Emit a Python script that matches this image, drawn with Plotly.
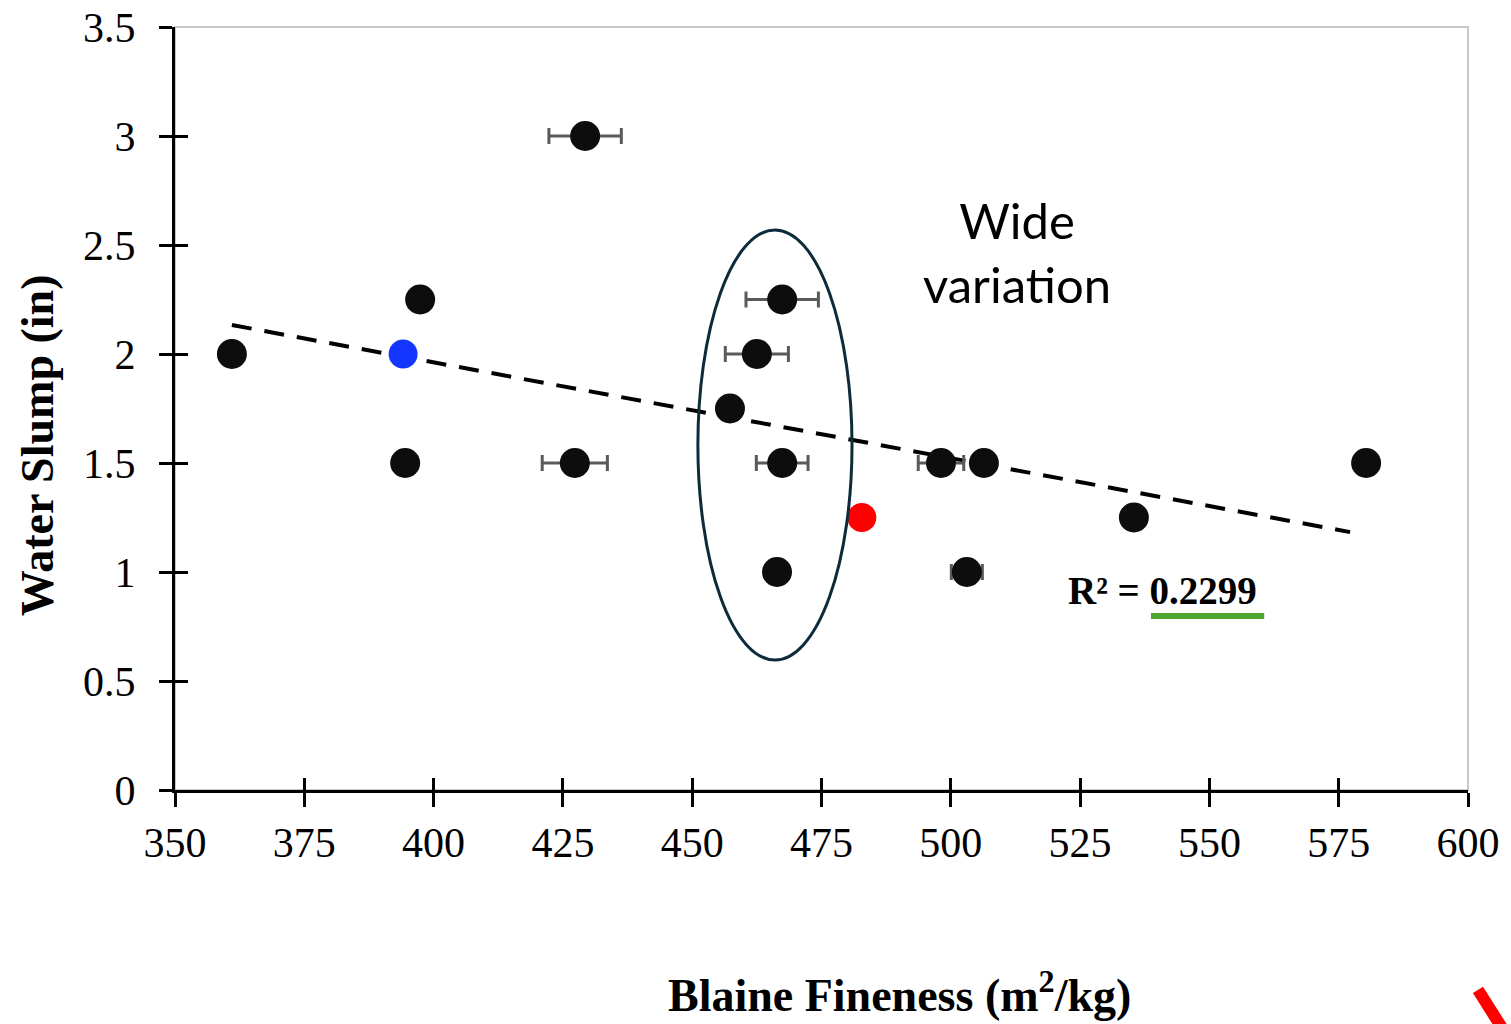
import plotly.graph_objects as go

# ---- data ----
blaine = [361.0, 397.4, 394.5, 429.3, 427.3, 467.4, 462.5, 457.3, 467.4, 466.4, 498.1, 506.4, 503.1, 535.4, 580.3]
slump = [2.0, 2.25, 1.5, 3.0, 1.5, 2.25, 2.0, 1.75, 1.5, 1.0, 1.5, 1.5, 1.0, 1.25, 1.5]
blaine_err = [0, 0, 0, 7.0, 6.3, 7.0, 6.1, 0, 5.0, 0, 4.4, 0, 3.0, 0, 0]

blue_x = [394.1]
blue_y = [2.0]
red_x = [482.8]
red_y = [1.25]

trend_x = [361.0, 577.2]
trend_y = [2.133, 1.183]

x_ticks = [350, 375, 400, 425, 450, 475, 500, 525, 550, 575, 600]
y_ticks = [0, 0.5, 1, 1.5, 2, 2.5, 3, 3.5]
y_ticktext = ["0", "0.5", "1", "1.5", "2", "2.5", "3", "3.5"]

r2_text = "R² = 0.2299"
ellipse_x = [451.1, 480.9]
ellipse_y = [0.596, 2.569]

SERIF = "Liberation Serif, Times New Roman, serif"

fig = go.Figure()

fig.add_trace(go.Scatter(
    x=trend_x, y=trend_y, mode="lines",
    line=dict(color="black", width=4, dash="20px,13px"),
    hoverinfo="skip", showlegend=False))

fig.add_trace(go.Scatter(
    x=blaine, y=slump, mode="markers",
    marker=dict(color="#0d0d0d", size=30),
    error_x=dict(type="data", array=blaine_err, visible=True,
                 color="#5a5a5a", thickness=3, width=8),
    showlegend=False))

fig.add_trace(go.Scatter(
    x=blue_x, y=blue_y, mode="markers",
    marker=dict(color="#1436ff", size=29), showlegend=False))

fig.add_trace(go.Scatter(
    x=red_x, y=red_y, mode="markers",
    marker=dict(color="#ff0000", size=29), showlegend=False))

# dummy trace for overlay axes (inside half of the cross ticks)
fig.add_trace(go.Scatter(x=[None], y=[None], xaxis="x2", yaxis="y2",
                         mode="markers", showlegend=False, hoverinfo="skip"))

axis_common = dict(showgrid=False, zeroline=False, automargin=False)

fig.update_layout(
    width=1511, height=1024,
    margin=dict(l=175, r=43, t=27, b=234, pad=0),
    paper_bgcolor="white", plot_bgcolor="white",
    xaxis=dict(range=[350, 600], tickvals=x_ticks, ticks="outside", ticklen=14,
               tickwidth=3, tickcolor="black", showline=True, linecolor="black",
               linewidth=3, tickfont=dict(family=SERIF, size=42, color="black"),
               ticklabelstandoff=0, **axis_common),
    yaxis=dict(range=[0, 3.5], tickvals=y_ticks, ticktext=y_ticktext, ticks="outside",
               ticklen=13, tickwidth=3, tickcolor="black", showline=True,
               linecolor="black", linewidth=3,
               tickfont=dict(family=SERIF, size=42, color="black"),
               ticklabelstandoff=15, **axis_common),
    xaxis2=dict(range=[350, 600], tickvals=x_ticks, overlaying="x", anchor="y2",
                side="bottom", ticks="inside", ticklen=12, tickwidth=3,
                tickcolor="black", showticklabels=False, showline=False, **axis_common),
    yaxis2=dict(range=[0, 3.5], tickvals=y_ticks, overlaying="y", anchor="x2",
                side="left", ticks="inside", ticklen=13, tickwidth=3,
                tickcolor="black", showticklabels=False, showline=False, **axis_common),
    shapes=[
        dict(type="rect", xref="paper", yref="paper", x0=0, x1=1, y0=0, y1=1,
             line=dict(color="#c8c8c8", width=2), layer="below"),
        dict(type="circle", xref="x", yref="y", x0=ellipse_x[0], x1=ellipse_x[1],
             y0=ellipse_y[0], y1=ellipse_y[1],
             line=dict(color="#0d2b3a", width=3)),
        dict(type="line", xref="x", yref="y", x0=538.7, x1=560.6, y0=0.798, y1=0.798,
             line=dict(color="#4ea72e", width=6)),
        dict(type="line", xref="paper", yref="paper", x0=1.0077, y0=-0.262,
             x1=1.0286, y1=-0.318, line=dict(color="#ff0000", width=12)),
    ],
    annotations=[
        dict(text="Wide<br>variation", x=512.8, y=2.47, xref="x", yref="y",
             xanchor="center", yanchor="middle",
             showarrow=False, font=dict(family="Lato, Open Sans, sans-serif", size=49,
                                        color="black"), align="center"),
        dict(text="<b>" + r2_text + "</b>", x=541.0, y=0.917, xref="x", yref="y",
             xanchor="center", yanchor="middle",
             showarrow=False, font=dict(family=SERIF, size=39, color="black")),
        dict(text="<b>Blaine Fineness (m<sup>2</sup>/kg)</b>", x=0.56, y=-0.265,
             xref="paper", yref="paper", showarrow=False,
             xanchor="center", yanchor="middle",
             font=dict(family=SERIF, size=46, color="black")),
        dict(text="<b>Water Slump (in)</b>", x=-0.1067, y=0.452, xref="paper",
             yref="paper", showarrow=False, textangle=-90,
             xanchor="center", yanchor="middle",
             font=dict(family=SERIF, size=46, color="black")),
    ],
)

fig.write_html("out.html")
